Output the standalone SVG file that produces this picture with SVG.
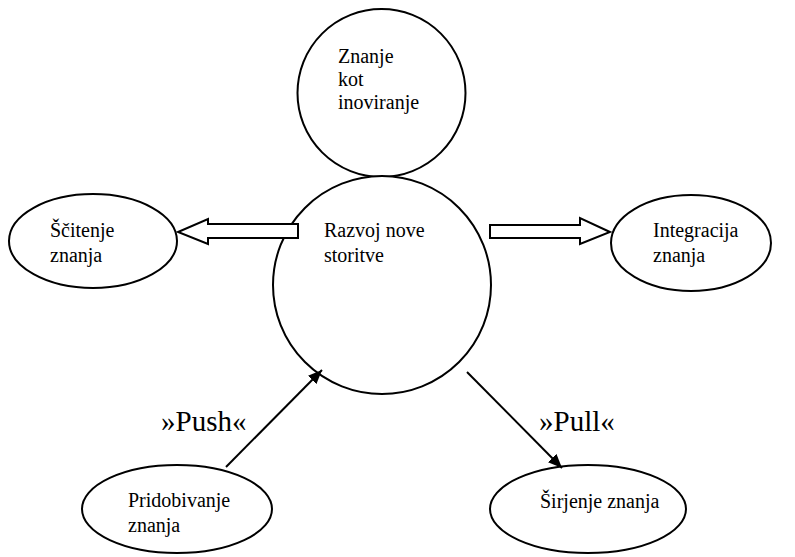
<svg xmlns="http://www.w3.org/2000/svg" width="795" height="557" viewBox="0 0 795 557">
  <defs>
    <marker id="head" viewBox="0 0 14 12" refX="14" refY="6" markerWidth="14" markerHeight="12" markerUnits="userSpaceOnUse" orient="auto">
      <path d="M0,0 L14,6 L0,12 Z" fill="#000"/>
    </marker>
    <style>
      .shape { fill: #fff; stroke: #000; stroke-width: 2; }
      .block { fill: #fff; stroke: #000; stroke-width: 2; stroke-linejoin: miter; }
      .line { stroke: #000; stroke-width: 2; fill: none; }
      .lbl { font-family: "Liberation Serif", "DejaVu Serif", serif; font-size: 20px; fill: #000; }
      .big { font-family: "Liberation Serif", "DejaVu Serif", serif; font-size: 29px; fill: #000; }
    </style>
  </defs>
  <rect width="795" height="557" fill="#fff"/>

  <g id="znanje-kot-inoviranje">
    <circle class="shape" cx="381.5" cy="93" r="84"/>
    <text class="lbl" x="338" y="63">Znanje</text>
    <text class="lbl" x="338" y="86">kot</text>
    <text class="lbl" x="338" y="109">inoviranje</text>
  </g>

  <g id="razvoj-nove-storitve">
    <ellipse class="shape" cx="382" cy="285" rx="109" ry="109"/>
    <text class="lbl" x="324" y="237">Razvoj nove</text>
    <text class="lbl" x="324" y="262">storitve</text>
  </g>

  <g id="scitenje-znanja">
    <ellipse class="shape" cx="93" cy="241" rx="84" ry="47"/>
    <text class="lbl" x="50" y="237">Ščitenje</text>
    <text class="lbl" x="50" y="262">znanja</text>
  </g>

  <g id="integracija-znanja">
    <ellipse class="shape" cx="691" cy="243" rx="80" ry="48"/>
    <text class="lbl" x="653" y="237">Integracija</text>
    <text class="lbl" x="653" y="262">znanja</text>
  </g>

  <g id="pridobivanje-znanja">
    <ellipse class="shape" cx="177" cy="509" rx="95" ry="44"/>
    <text class="lbl" x="128" y="507">Pridobivanje</text>
    <text class="lbl" x="128" y="532">znanja</text>
  </g>

  <g id="sirjenje-znanja">
    <ellipse class="shape" cx="588" cy="509" rx="98" ry="44"/>
    <text class="lbl" x="540" y="508">Širjenje znanja</text>
  </g>

  <g id="connectors">
    <!-- hollow block arrows leaving the central node -->
    <path class="block" d="M298,224 L208,224 L208,219 L178,232 L208,244 L208,238 L298,238 Z"/>
    <path class="block" d="M490,225 L580,225 L580,218 L610,232 L580,244 L580,238 L490,238 Z"/>
    <!-- push / pull lines -->
    <line class="line" x1="226" y1="467" x2="322" y2="370" marker-end="url(#head)"/>
    <line class="line" x1="467" y1="372" x2="562" y2="468" marker-end="url(#head)"/>
    <text class="big" x="161" y="431">»Push«</text>
    <text class="big" x="539" y="431">»Pull«</text>
  </g>
</svg>
